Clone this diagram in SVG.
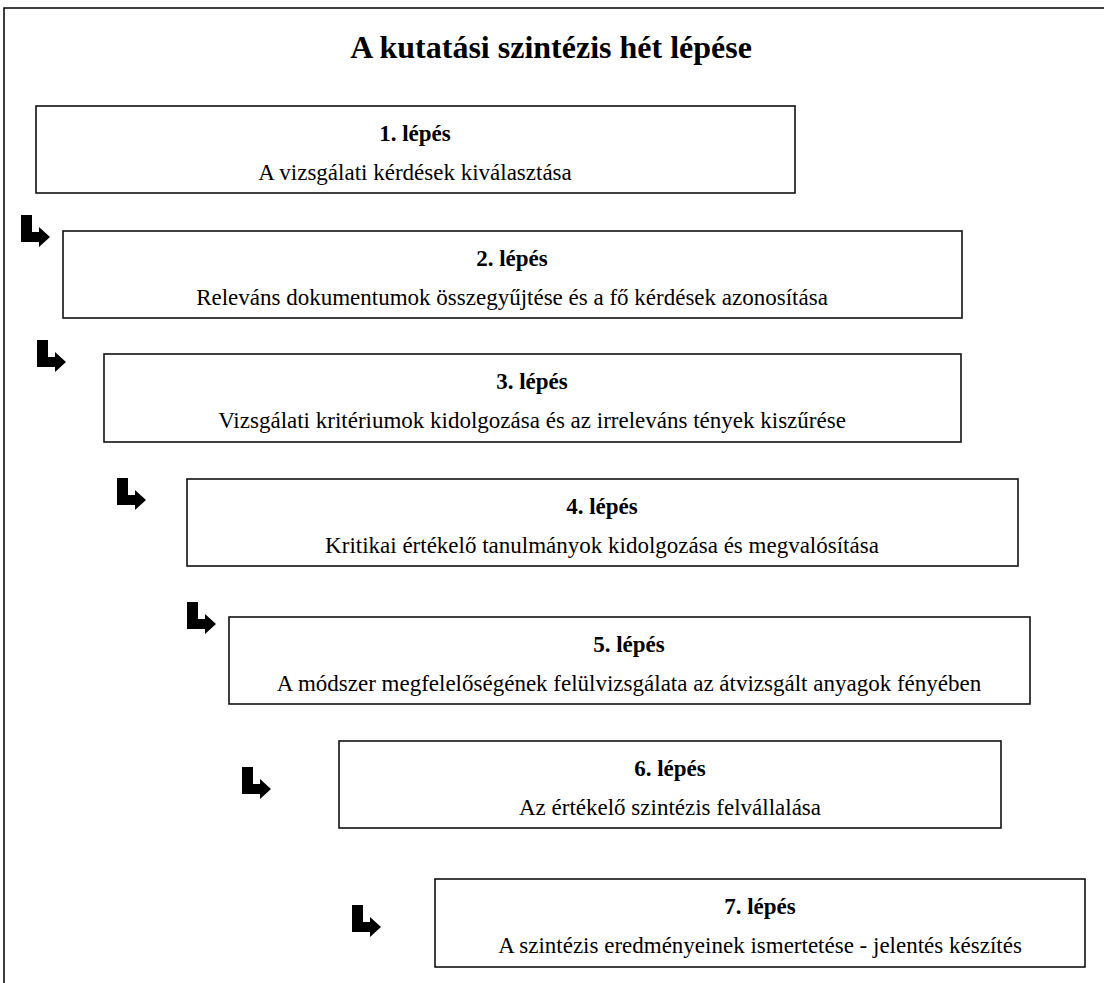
<svg xmlns="http://www.w3.org/2000/svg" width="1104" height="983" viewBox="0 0 1104 983">
<style>
.frame{fill:none;stroke:#000;stroke-width:1.5}
.box{fill:#fff;stroke:#111;stroke-width:1.6}
.hd{font-family:"Liberation Serif","Times New Roman",serif;font-weight:bold;font-size:23px;fill:#000;text-anchor:middle}
.tx{font-family:"Liberation Serif","Times New Roman",serif;font-size:23px;fill:#000;text-anchor:middle}
.title{font-family:"Liberation Serif","Times New Roman",serif;font-weight:bold;font-size:32px;fill:#000;text-anchor:middle}
.arr{fill:#000}
</style>
<defs>
<path id="ar" d="M0,0 H11 V17 H18 V12 L29,22 L18,32 V27 H0 Z"/>
</defs>
<rect width="1104" height="983" fill="#fff"/>
<path class="frame" d="M4,983 V8 H1104"/>
<text class="title" x="551" y="58">A kutatási szintézis hét lépése</text>
<g id="step1"><rect class="box" x="36" y="106" width="759" height="87"/><text class="hd" x="415" y="141">1. lépés</text><text class="tx" x="415" y="180">A vizsgálati kérdések kiválasztása</text></g>
<g id="step2"><rect class="box" x="63" y="231" width="899" height="87"/><text class="hd" x="512" y="266">2. lépés</text><text class="tx" x="512" y="305">Releváns dokumentumok összegyűjtése és a fő kérdések azonosítása</text></g>
<g id="step3"><rect class="box" x="104" y="354" width="857" height="88"/><text class="hd" x="532" y="389">3. lépés</text><text class="tx" x="532" y="428">Vizsgálati kritériumok kidolgozása és az irreleváns tények kiszűrése</text></g>
<g id="step4"><rect class="box" x="187" y="479" width="831" height="87"/><text class="hd" x="602" y="514">4. lépés</text><text class="tx" x="602" y="553">Kritikai értékelő tanulmányok kidolgozása és megvalósítása</text></g>
<g id="step5"><rect class="box" x="229" y="617" width="801" height="87"/><text class="hd" x="629" y="652">5. lépés</text><text class="tx" x="629" y="691">A módszer megfelelőségének felülvizsgálata az átvizsgált anyagok fényében</text></g>
<g id="step6"><rect class="box" x="339" y="741" width="662" height="87"/><text class="hd" x="670" y="776">6. lépés</text><text class="tx" x="670" y="815">Az értékelő szintézis felvállalása</text></g>
<g id="step7"><rect class="box" x="435" y="879" width="650" height="88"/><text class="hd" x="760" y="914">7. lépés</text><text class="tx" x="760" y="953">A szintézis eredményeinek ismertetése - jelentés készítés</text></g>
<g id="connectors" class="arr">
<use href="#ar" x="21" y="215"/>
<use href="#ar" x="37" y="340"/>
<use href="#ar" x="117" y="478"/>
<use href="#ar" x="187" y="602"/>
<use href="#ar" x="242" y="767"/>
<use href="#ar" x="352" y="905"/>
</g>
</svg>
